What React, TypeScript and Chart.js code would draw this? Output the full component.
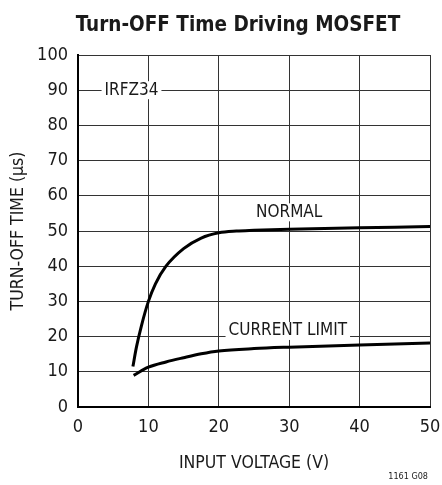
import React, { useEffect, useRef } from "react";
import { Chart, registerables } from "chart.js";

Chart.register(...registerables);

const FONT = '"Liberation Sans Narrow", "DejaVu Sans Condensed", "Liberation Sans", sans-serif';

const titleText = "Turn-OFF Time Driving MOSFET";
const xTitle = "INPUT VOLTAGE (V)";
const yTitle = "TURN-OFF TIME (µs)";
const noteText = "1161 G08";

const xTicks = [0, 10, 20, 30, 40, 50];
const yTicks = [0, 10, 20, 30, 40, 50, 60, 70, 80, 90, 100];

const normalX = [7.8, 8.3, 9, 10, 11, 12.5, 15, 17.5, 20, 22.5, 25, 30, 35, 40, 45, 50];
const normalY = [11.5, 17, 23, 30, 35, 40, 45, 48, 49.5, 50, 50.2, 50.5, 50.7, 50.9, 51.1, 51.3];

const limitX = [7.9, 10, 12.5, 15, 17.5, 20, 25, 30, 40, 50];
const limitY = [9, 11.3, 12.8, 14, 15.1, 15.9, 16.6, 17, 17.6, 18.2];

const labels = [
  { text: "IRFZ34", x: 7.6, y: 90 },
  { text: "NORMAL", x: 30, y: 55.3 },
  { text: "CURRENT LIMIT", x: 29.8, y: 21.6 },
];

const labelPlugin = {
  id: "labelPlugin",
  beforeDatasetsDraw(chart: any) {
    const ctx = chart.ctx;
    const xs = chart.scales.x;
    const ys = chart.scales.y;
    ctx.save();
    ctx.font = `17px ${FONT}`;
    ctx.textAlign = "center";
    ctx.textBaseline = "middle";
    for (const l of labels) {
      const px = xs.getPixelForValue(l.x);
      const py = ys.getPixelForValue(l.y);
      const w = ctx.measureText(l.text).width;
      ctx.fillStyle = "#ffffff";
      ctx.fillRect(px - w / 2 - 3, py - 9, w + 6, 18);
      ctx.fillStyle = "#1a1a1a";
      ctx.fillText(l.text, px, py);
    }
    ctx.restore();
  },
  afterDraw(chart: any) {
    const ctx = chart.ctx;
    ctx.save();
    ctx.fillStyle = "#1a1a1a";
    ctx.font = `bold 20.5px ${FONT}`;
    ctx.textAlign = "center";
    ctx.textBaseline = "alphabetic";
    ctx.fillText(titleText, 238, 31);
    ctx.font = `9px ${FONT}`;
    ctx.textAlign = "right";
    ctx.textBaseline = "middle";
    ctx.fillText(noteText, chart.width - 14, chart.height - 8);
    ctx.restore();
  },
};

export default function App() {
  const ref = useRef<HTMLCanvasElement>(null);
  useEffect(() => {
    if (!ref.current) return;
    const chart = new Chart(ref.current, {
      type: "scatter",
      data: {
        datasets: [
          {
            label: "NORMAL",
            data: normalX.map((x, i) => ({ x, y: normalY[i] })),
            showLine: true,
            borderColor: "#000",
            borderWidth: 3,
            pointRadius: 0,
            cubicInterpolationMode: "monotone",
          },
          {
            label: "CURRENT LIMIT",
            data: limitX.map((x, i) => ({ x, y: limitY[i] })),
            showLine: true,
            borderColor: "#000",
            borderWidth: 3,
            pointRadius: 0,
            cubicInterpolationMode: "monotone",
          },
        ],
      },
      options: {
        responsive: false,
        animation: false,
        layout: { padding: { top: 55, right: 12, bottom: 0, left: 0 } },
        plugins: {
          legend: { display: false },
          title: { display: false },
          tooltip: { enabled: false },
        },
        scales: {
          x: {
            type: "linear",
            min: 0,
            max: 50,
            afterBuildTicks: (s: any) => {
              s.ticks = xTicks.map((v) => ({ value: v }));
            },
            afterFit: (s: any) => {
              s.height = 78;
              s.paddingLeft = 0;
              s.paddingRight = 0;
            },
            ticks: {
              color: "#1a1a1a",
              font: { family: FONT, size: 18 },
              padding: 10,
              maxRotation: 0,
            },
            grid: { color: "#333", lineWidth: 1, drawTicks: false },
            border: { color: "#000", width: 2 },
            title: {
              display: true,
              text: xTitle,
              color: "#1a1a1a",
              font: { family: FONT, size: 17.5 },
              padding: { top: 0, bottom: 11 },
            },
          },
          y: {
            type: "linear",
            min: 0,
            max: 100,
            afterBuildTicks: (s: any) => {
              s.ticks = yTicks.map((v) => ({ value: v }));
            },
            afterFit: (s: any) => {
              s.width = 78;
              s.paddingTop = 0;
              s.paddingBottom = 0;
            },
            ticks: {
              color: "#1a1a1a",
              font: { family: FONT, size: 18 },
              padding: 10,
            },
            grid: { color: "#333", lineWidth: 1, drawTicks: false },
            border: { color: "#000", width: 2 },
            title: {
              display: true,
              text: yTitle,
              color: "#1a1a1a",
              font: { family: FONT, size: 17.5 },
              padding: { top: 8, bottom: 0 },
            },
          },
        },
      },
      plugins: [labelPlugin],
    } as any);
    return () => chart.destroy();
  }, []);
  return (
    <div style={{ position: "fixed", left: 0, top: 0, width: 442, height: 485, background: "#fff" }}>
      <canvas ref={ref} width={442} height={485} />
    </div>
  );
}
